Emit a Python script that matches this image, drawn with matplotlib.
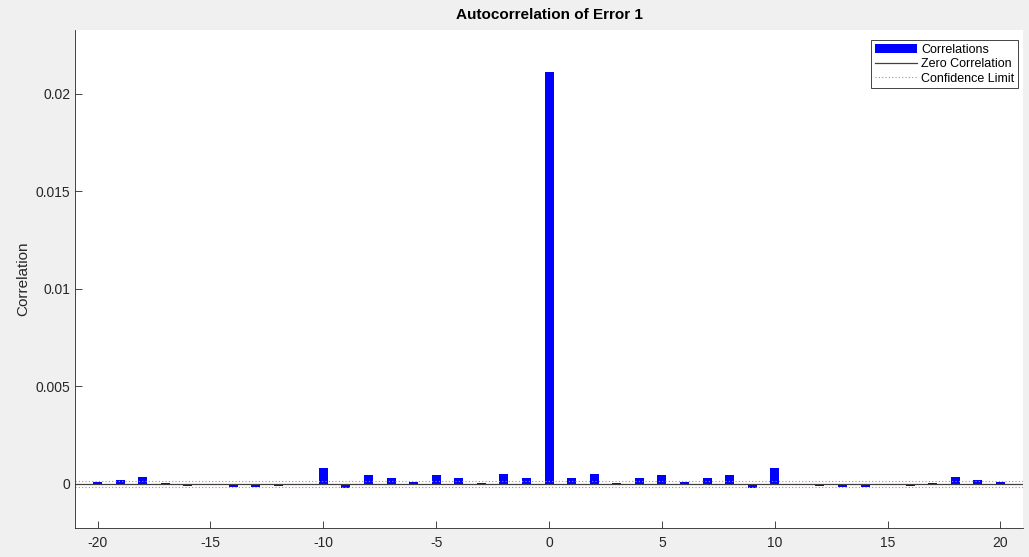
import numpy as np
import matplotlib.pyplot as plt

plt.rcParams['font.family'] = ['Liberation Sans', 'DejaVu Sans']
plt.rcParams['axes.unicode_minus'] = False

# lags og korrelasjoner lest av figuren
lags = list(range(-20, 21))
corr_pos = [2.9e-4, 5.0e-4, 0.6e-4, 3.1e-4, 4.6e-4, 1.0e-4, 3.1e-4, 4.6e-4, -2.2e-4, 8.0e-4,
            0.0, -1.2e-4, -1.4e-4, -1.5e-4, 0.0, -1.0e-4, 0.7e-4, 3.6e-4, 2.2e-4, 1.0e-4]
corr_zero = 0.02115
correlations = corr_pos[::-1] + [corr_zero] + corr_pos
conf_limit = 1.45e-4

fig = plt.figure(figsize=(10.29, 5.57), dpi=100, facecolor='#f0f0f0')
a = fig.add_axes([0.0729, 0.0521, 0.9213, 0.894])

h_bar = a.bar(lags, correlations, width=0.4, color='#0000ff', label='Correlations')
h_zero = a.axhline(0, color='#404040', lw=0.9, label='Zero Correlation')
h_conf = a.axhline(conf_limit, color='#f07070', lw=0.8, ls=(0, (1, 2)), label='Confidence Limit')
a.axhline(-conf_limit, color='#f07070', lw=0.8, ls=(0, (1, 2)))

a.set_xlim(-21, 21)
a.set_ylim(-0.00226, 0.02328)
a.set_xticks([-20, -15, -10, -5, 0, 5, 10, 15, 20])
a.set_yticks([0, 0.005, 0.01, 0.015, 0.02])
a.set_yticklabels(['0', '0.005', '0.01', '0.015', '0.02'])
a.tick_params(direction='in', length=5, labelsize=10, colors='#262626', width=0.6)
a.tick_params(axis='x', pad=6)
for s in ['top', 'right']:
    a.spines[s].set_visible(False)
for s in ['left', 'bottom']:
    a.spines[s].set_color('#262626')
    a.spines[s].set_linewidth(0.6)

a.set_ylabel('Correlation', fontsize=11, color='#262626')
a.set_title('Autocorrelation of Error 1', fontsize=11, fontweight='bold', pad=8)

leg = a.legend([h_bar, h_zero, h_conf], ['Correlations', 'Zero Correlation', 'Confidence Limit'],
               loc='upper right', fontsize=9, fancybox=False, framealpha=1,
               edgecolor='#262626', bbox_to_anchor=(0.9947, 0.98), borderaxespad=0,
               handlelength=3.4, handletextpad=0.3, labelspacing=0.2, borderpad=0.3)
leg.get_frame().set_linewidth(0.6)

fig.savefig('out.png', facecolor=fig.get_facecolor())
